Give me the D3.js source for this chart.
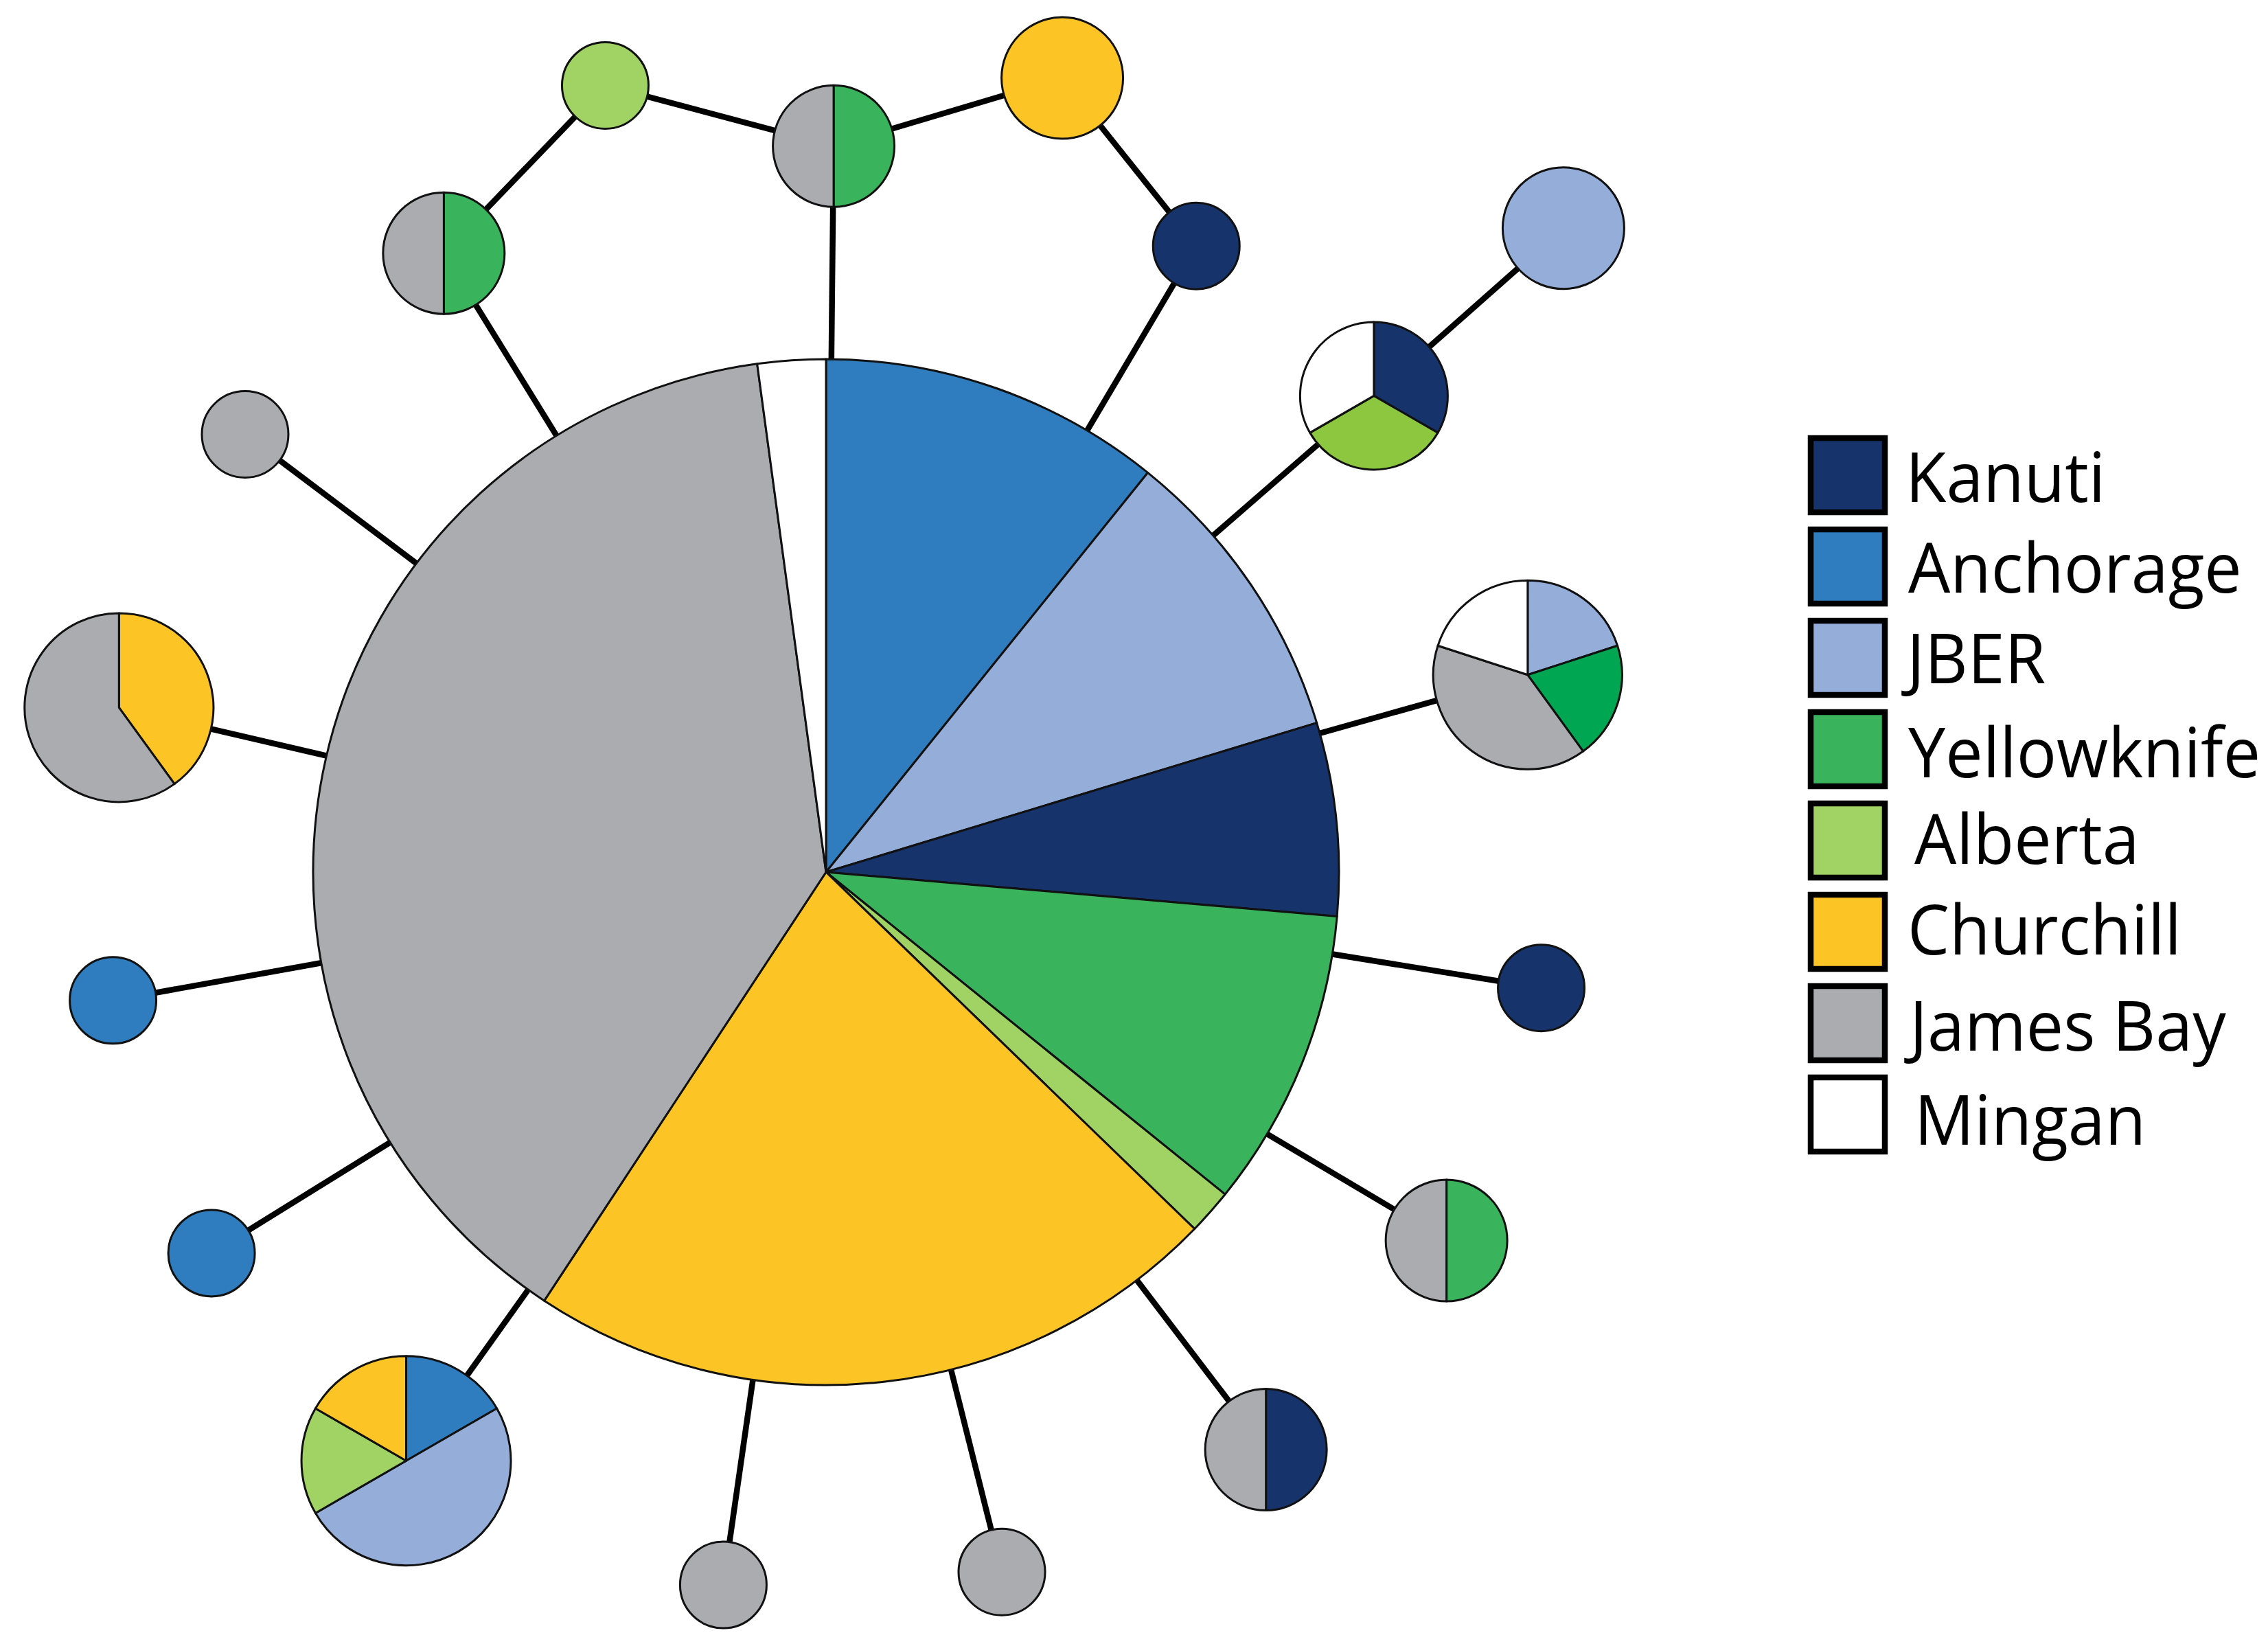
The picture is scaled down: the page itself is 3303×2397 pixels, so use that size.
<!DOCTYPE html>
<html>
<head>
<meta charset="utf-8">
<script src="https://cdn.jsdelivr.net/npm/d3@7"></script>
<style>
  body { margin: 0; background: #fff; }
  text { font-family: "Open Sans", sans-serif; fill: #000; }
</style>
</head>
<body>
<div id="my_dataviz"></div>
<script>
// populations, in legend order
var populations = ["Kanuti", "Anchorage", "JBER", "Yellowknife", "Alberta", "Churchill", "James Bay", "Mingan"];
var popColors = ["#17336b", "#2f7dbe", "#95add9", "#39b35c", "#a1d264", "#fdc425", "#aaacb0", "#ffffff"];

// haplotype network: parent node, bearing in degrees clockwise from north,
// link length relative to the hub spoke
var nodeParent = [null, 0, 0, 0, 0, 0, 0, 0, 0, 0, 0, 0, 0, 0, 0, 0, 1, 2, 4];
var nodeBearing = [0, 0.6, 328.3, 30.6, 49, 74.3, 99.2, 120.7, 142.7, 165.9, 188.2, 215.5, 238.2, 259.8, 283.1, 307, 73.4, 43.9, 48.5];
var nodeLength = [0, 1.004, 1.006, 1.006, 1.004, 1.008, 1.002, 0.998, 1.004, 0.998, 0.996, 1, 1, 1.002, 1.004, 1.006, 0.33, 0.322, 0.35];

// sample counts per node, slices run clockwise from north
var nodePops = [
  ["Anchorage", "JBER", "Kanuti", "Yellowknife", "Alberta", "Churchill", "James Bay", "Mingan"],
  ["Yellowknife", "James Bay"],
  ["Yellowknife", "James Bay"],
  ["Kanuti"],
  ["Kanuti", "Alberta", "Mingan"],
  ["JBER", "Yellowknife", "James Bay", "Mingan"],
  ["Kanuti"],
  ["Yellowknife", "James Bay"],
  ["Kanuti", "James Bay"],
  ["James Bay"],
  ["James Bay"],
  ["Anchorage", "JBER", "Alberta", "Churchill"],
  ["Anchorage"],
  ["Anchorage"],
  ["Churchill", "James Bay"],
  ["James Bay"],
  ["Churchill"],
  ["Alberta"],
  ["JBER"]
];
var nodeCounts = [
  [15.1, 13.3, 8.5, 13.2, 2, 30.8, 54, 3],
  [1, 1],
  [1, 1],
  [1],
  [1, 1, 1],
  [1, 1, 2, 1],
  [1],
  [1, 1],
  [1, 1],
  [1],
  [1],
  [1, 3, 1, 1],
  [1],
  [1],
  [2, 3],
  [1],
  [2],
  [1],
  [2]
];

// links that close the loops at the top of the network
var extraLinks = [[17, 1], [16, 3]];

var width = 3303, height = 2397;
var hub = {x: 1203, y: 1270};
var step = d3.scaleLinear().domain([0, 1]).range([0, 1053]);
// circle size grows with the sample count
var radius = d3.scaleLinear().domain([1, 2, 3, 5, 6, 140]).range([63, 88.5, 107.5, 137.5, 152.5, 747]);
var color = d3.scaleOrdinal().domain(populations).range(popColors);

// a few slices in the figure carry a different green
var sliceColorOverride = {"4-Alberta": "#8dc63f", "5-Yellowknife": "#00a651"};

// hand placement of the legend labels, as in the figure
var labelNudge = {
  "Kanuti": [-3, 2], "Anchorage": [1, 1], "JBER": [-1, 0], "Yellowknife": [1, 4],
  "Alberta": [10, -3], "Churchill": [0, -4], "James Bay": [3, 3], "Mingan": [10, 7]
};

var nodes = [];
nodeParent.forEach(function(p, i) {
  var parent = p === null ? null : nodes[p];
  var a = nodeBearing[i] * Math.PI / 180;
  nodes.push({
    id: i,
    x: parent ? parent.x + step(nodeLength[i]) * Math.sin(a) : hub.x,
    y: parent ? parent.y - step(nodeLength[i]) * Math.cos(a) : hub.y,
    total: Math.round(d3.sum(nodeCounts[i])),
    slices: nodeCounts[i].map(function(c, j) { return {pop: nodePops[i][j], count: c}; })
  });
});

var links = nodes.slice(1).map(function(n) { return [nodes[nodeParent[n.id]], n]; });
extraLinks.forEach(function(l) { links.push([nodes[l[0]], nodes[l[1]]]); });

var svg = d3.select("#my_dataviz")
  .append("svg")
    .attr("width", width)
    .attr("height", height);

svg.append("g")
  .selectAll("line")
  .data(links)
  .enter()
  .append("line")
    .attr("x1", function(d) { return d[0].x; })
    .attr("y1", function(d) { return d[0].y; })
    .attr("x2", function(d) { return d[1].x; })
    .attr("y2", function(d) { return d[1].y; })
    .attr("stroke", "#000")
    .attr("stroke-width", 8.5);

var pie = d3.pie().sort(null).value(function(d) { return d.count; });

var nodeG = svg.append("g")
  .selectAll("g")
  .data(nodes)
  .enter()
  .append("g")
    .attr("transform", function(d) { return "translate(" + d.x + "," + d.y + ")"; });

nodeG.each(function(n) {
  var arc = d3.arc().innerRadius(0).outerRadius(radius(n.total));
  d3.select(this).selectAll("path")
    .data(pie(n.slices))
    .enter()
    .append("path")
      .attr("d", arc)
      .attr("fill", function(d) {
        return sliceColorOverride[n.id + "-" + d.data.pop] || color(d.data.pop);
      })
      .attr("stroke", "#111")
      .attr("stroke-width", 3)
      .attr("stroke-linejoin", "round");
});

// legend
var legendY = d3.scalePoint().domain(populations).range([692, 1623]);
var legend = svg.append("g")
  .selectAll("g")
  .data(populations)
  .enter()
  .append("g")
    .attr("transform", function(d) { return "translate(0," + legendY(d) + ")"; });

legend.append("rect")
  .attr("x", 2637)
  .attr("y", -54)
  .attr("width", 108)
  .attr("height", 108)
  .attr("fill", function(d) { return color(d); })
  .attr("stroke", "#000")
  .attr("stroke-width", 8.5);

legend.append("text")
  .attr("transform", function(d) {
    var nudge = labelNudge[d];
    return "translate(" + (2778 + nudge[0]) + "," + (37 + nudge[1]) + ") scale(0.97,1)";
  })
  .style("font-size", "100px")
  .text(function(d) { return d; });
</script>
</body>
</html>
